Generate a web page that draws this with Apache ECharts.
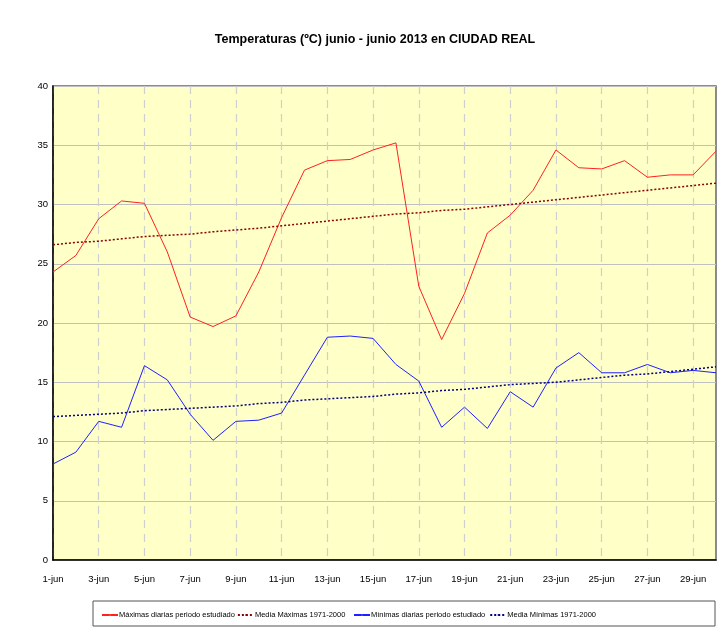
<!DOCTYPE html>
<html>
<head>
<meta charset="utf-8">
<script src="https://cdn.jsdelivr.net/npm/echarts@6/dist/echarts.min.js"></script>
<style>
  html, body { margin: 0; padding: 0; background: #fff; }
  #main { width: 720px; height: 639px; }
</style>
</head>
<body>
<div id="main"></div>
<script type="text/javascript">
// dias del mes
var dias = [];
for (var d = 1; d <= 30; d++) { dias.push(d + '-jun'); }

// temperaturas
var maximas = [24.3, 25.7, 28.8, 30.3, 30.1, 26.0, 20.5, 19.7, 20.6, 24.3,
               28.9, 32.9, 33.7, 33.8, 34.6, 35.2, 23.1, 18.6, 22.5, 27.6,
               29.1, 31.2, 34.6, 33.1, 33.0, 33.7, 32.3, 32.5, 32.5, 34.5];
var mediaMaximas = [26.6, 26.8, 26.9, 27.1, 27.3, 27.4, 27.5, 27.7, 27.85, 28.0,
                    28.2, 28.4, 28.6, 28.8, 29.0, 29.2, 29.3, 29.5, 29.6, 29.8,
                    30.0, 30.2, 30.4, 30.6, 30.8, 31.0, 31.2, 31.4, 31.6, 31.8];
var minimas = [8.1, 9.1, 11.7, 11.2, 16.4, 15.2, 12.3, 10.1, 11.7, 11.8,
               12.4, 15.6, 18.8, 18.9, 18.7, 16.5, 15.1, 11.2, 12.9, 11.1,
               14.2, 12.9, 16.2, 17.5, 15.8, 15.8, 16.5, 15.8, 16.0, 15.8];
var mediaMinimas = [12.1, 12.2, 12.3, 12.4, 12.6, 12.7, 12.8, 12.9, 13.0, 13.2,
                    13.3, 13.5, 13.6, 13.7, 13.8, 14.0, 14.1, 14.3, 14.4, 14.6,
                    14.8, 14.9, 15.0, 15.2, 15.4, 15.6, 15.7, 15.9, 16.1, 16.3];

var fuente = '"Liberation Sans", Arial, sans-serif';

var myChart = echarts.init(document.getElementById('main'));

var leyenda = { fontSize: 7.5, color: '#000', fontFamily: fuente, padding: [0, 0, 0, -4] };

var option = {
    backgroundColor: '#fff',
    animation: false,
    textStyle: { fontFamily: fuente },
    title: {
        text: 'Temperaturas (ºC) junio - junio 2013 en CIUDAD REAL',
        left: 370,
        textAlign: 'center',
        top: 28,
        textStyle: { fontSize: 12.5, fontWeight: 'bold', color: '#000', fontFamily: fuente }
    },
    grid: {
        left: 53, top: 86, right: 4, bottom: 79,
        show: true,
        backgroundColor: '#ffffc8',
        borderColor: '#666',
        borderWidth: 1.5
    },
    graphic: [{
        type: 'rect',
        shape: { x: 93, y: 601, width: 622, height: 25 },
        style: { fill: '#fff', stroke: '#555', lineWidth: 1 },
        z: 0
    }],
    legend: [{
        left: 96, top: 606,
        itemWidth: 16, itemHeight: 2, itemGap: 2,
        textStyle: leyenda,
        data: ['Máximas diarias periodo estudiado', 'Media Máximas 1971-2000']
    }, {
        left: 348, top: 606,
        itemWidth: 16, itemHeight: 2, itemGap: 4,
        textStyle: leyenda,
        data: ['Mínimas diarias periodo estudiado', 'Media Mínimas 1971-2000']
    }],
    xAxis: {
        type: 'category',
        data: dias,
        boundaryGap: false,
        axisLine: { lineStyle: { color: '#000', width: 1.5 } },
        axisTick: { show: false },
        axisLabel: { interval: 1, fontSize: 9.5, color: '#000', margin: 14 },
        splitLine: {
            show: true,
            interval: 1,
            lineStyle: { color: '#cfcfcf', type: [8, 6], width: 1.2 }
        }
    },
    yAxis: {
        type: 'value',
        min: 0, max: 40, interval: 5,
        axisLine: { show: true, lineStyle: { color: '#000', width: 1.5 } },
        axisTick: { show: false },
        axisLabel: { fontSize: 9.5, color: '#000', margin: 5 },
        splitLine: { lineStyle: { color: '#c0c0c0', width: 1 } }
    },
    series: [{
        name: 'Máximas diarias periodo estudiado',
        type: 'line',
        data: maximas,
        symbol: 'none',
        itemStyle: { color: '#ff6060' },
        lineStyle: { color: '#ff2020', width: 1 }
    }, {
        name: 'Media Máximas 1971-2000',
        type: 'line',
        data: mediaMaximas,
        symbol: 'none',
        itemStyle: { color: '#8b0000' },
        lineStyle: { color: '#8b0000', width: 1.5, type: [2, 2] }
    }, {
        name: 'Mínimas diarias periodo estudiado',
        type: 'line',
        data: minimas,
        symbol: 'none',
        itemStyle: { color: '#6060ff' },
        lineStyle: { color: '#2020ff', width: 1 }
    }, {
        name: 'Media Mínimas 1971-2000',
        type: 'line',
        data: mediaMinimas,
        symbol: 'none',
        itemStyle: { color: '#000080' },
        lineStyle: { color: '#000080', width: 1.5, type: [2, 2] }
    }]
};

myChart.setOption(option);
</script>
</body>
</html>
